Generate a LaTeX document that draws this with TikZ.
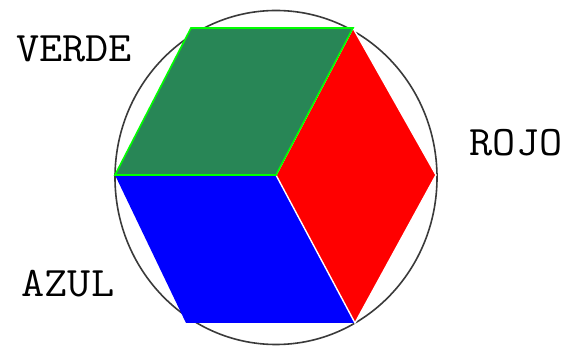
\documentclass[tikz,border=0pt]{standalone}
\usepackage{fontspec}
\usetikzlibrary{positioning}
\definecolor{cverde}{RGB}{40,134,86}
\definecolor{cborde}{HTML}{00FF00}
\definecolor{crojo}{HTML}{FF0000}
\definecolor{cazul}{HTML}{0000FF}
\definecolor{ccirc}{HTML}{3A3A3A}
\tikzset{
  % cara del cubo
  cara/.style={line join=miter},
  cara verde/.style={cara, fill=cverde, draw=cborde, line width=1.6pt},
  cara roja/.style={cara, fill=crojo, draw=white, line width=1.4pt},
  cara azul/.style={cara, fill=cazul},
  % contorno del disco
  disco/.style={draw=ccirc, line width=1.6pt},
  % nombre del color
  etiq/.style={font=\fontsize{42}{42}\selectfont\ttfamily, inner sep=0pt,
    xscale=1.07, transform shape},
}
\begin{document}
\begin{tikzpicture}[x=1pt, y=-1pt]
  \useasboundingbox (0,0) rectangle (566,347);
  \coordinate (o) at (276,175);
  \coordinate (a) at (115,175);
  \coordinate (b) at (191,28);
  \coordinate (c) at (353,28);
  \coordinate (d) at (436,175);
  \coordinate (e) at (355,323);
  \coordinate (f) at (186,323);
  \draw[disco] (276,177.5) ellipse [x radius=161pt, y radius=167pt];
  \path[cara azul] (a) -- (o) -- (e) -- (f) -- cycle;
  \draw[cara roja] (o) -- (c) -- (d) -- (e) -- cycle;
  \draw[cara verde] (a) -- (b) -- (c) -- (o) -- cycle;
  \node[etiq] (verde) at (74,48.5) {VERDE};
  \node[etiq] (rojo) at (516,142.5) {ROJO};
  \node[etiq] (azul) at (68,283.5) {AZUL};
\end{tikzpicture}
\end{document}
